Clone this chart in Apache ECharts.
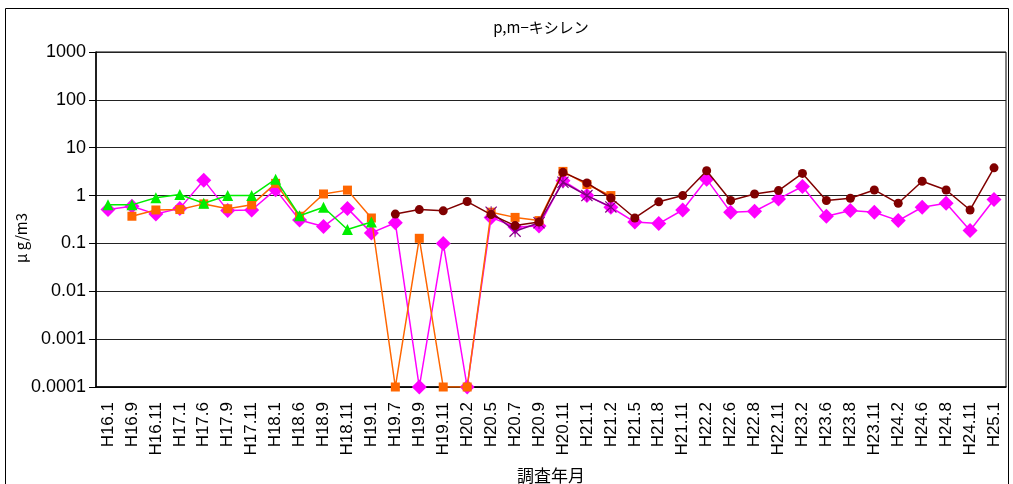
<!DOCTYPE html>
<html><head><meta charset="utf-8">
<script src="https://cdn.jsdelivr.net/npm/echarts@6/dist/echarts.min.js"></script>
<style>html,body{margin:0;padding:0;background:#fff}#c{width:1013px;height:484px}</style>
</head><body><div id="c"></div>
<script>
const categories = ["H16.1","H16.9","H16.11","H17.1","H17.6","H17.9","H17.11","H18.1","H18.6","H18.9","H18.11","H19.1","H19.7","H19.9","H19.11","H20.2","H20.5","H20.7","H20.9","H20.11","H21.1","H21.2","H21.5","H21.8","H21.11","H22.2","H22.6","H22.8","H22.11","H23.2","H23.6","H23.8","H23.11","H24.2","H24.6","H24.8","H24.11","H25.1"];
const yTickLabels = ["0.0001","0.001","0.01","0.1","1","10","100","1000"];
const greenVals = [0.64,0.64,0.90,1.05,0.69,1.0,1.0,2.2,0.38,0.57,0.195,0.28];
const orangeVals = [null,0.37,0.50,0.51,0.67,0.53,0.64,1.8,0.37,1.08,1.3,0.34,0.0001,0.128,0.0001,0.0001,0.45,0.35,0.30,3.2,1.7,1.0];
const magentaVals = [0.51,0.6,0.41,0.54,2.1,0.49,0.50,1.33,0.31,0.225,0.54,0.166,0.27,0.0001,0.1,0.0001,0.35,0.22,0.23,2.05,1.0,0.57,0.28,0.26,0.50,2.2,0.45,0.47,0.85,1.55,0.37,0.49,0.45,0.30,0.57,0.69,0.186,0.83];
const darkredVals = [null,null,null,null,null,null,null,null,null,null,null,null,0.41,0.51,0.48,0.75,0.40,0.236,0.28,3.06,1.84,0.89,0.34,0.74,1.0,3.3,0.79,1.08,1.27,2.9,0.79,0.88,1.31,0.69,1.99,1.31,0.50,3.8];
const purpleVals = [null,null,null,null,null,null,null,null,null,null,null,null,null,null,null,null,0.45,0.18,0.27,1.9,1.0,0.58];

const asterisk = 'path://M-10,-8.6L-8.6,-10L10,8.6L8.6,10Z M8.6,-10L10,-8.6L-8.6,10L-10,8.6Z M-0.8,-10L0.8,-10L0.8,10L-0.8,10Z';
function ser(name, data, color, symbol, size, z){
  return {name, type:'line', data, z, symbol, symbolSize:size, connectNulls:false,
    lineStyle:{color, width:1.5}, itemStyle:{color}, emphasis:{disabled:true}, animation:false};
}
const chart = echarts.init(document.getElementById('c'), null, {renderer:'canvas'});
chart.setOption({
  animation:false,
  backgroundColor:'#fff',
  title:{text:'p,m−キシレン', left:536, top:15, textAlign:'center',
    textStyle:{fontFamily:'Noto Sans CJK JP', fontSize:15, fontWeight:'normal', color:'#000'}},
  graphic:[
    {type:'rect', shape:{x:5.5,y:8.5,width:1003,height:490}, style:{fill:null, stroke:'#000', lineWidth:1}, silent:true},
    {type:'text', x:14, y:238, rotation:Math.PI/2, style:{text:'μ g/m3', fontFamily:'Noto Sans CJK JP', fontSize:15, fill:'#000', align:'center', verticalAlign:'top'}, silent:true}
  ],
  grid:{left:96, right:7, top:52, bottom:97, show:true, borderColor:'#000', borderWidth:1, outerBoundsMode:'none', containLabel:false},
  xAxis:{type:'category', data:categories, boundaryGap:true,
    name:'調査年月', nameLocation:'middle', nameGap:80,
    nameTextStyle:{fontFamily:'Noto Sans CJK JP', fontSize:17, color:'#000'},
    axisLine:{lineStyle:{color:'#000', width:1.5}},
    axisTick:{inside:true, length:5, lineStyle:{color:'#000'}},
    axisLabel:{rotate:90, interval:0, margin:15, fontFamily:'Liberation Sans', fontSize:17, color:'#000'}},
  yAxis:{type:'log', logBase:10, min:0.0001, max:1000,
    axisLine:{show:true, lineStyle:{color:'#000', width:1.5}},
    axisTick:{show:true, length:7, lineStyle:{color:'#000'}},
    splitLine:{show:true, lineStyle:{color:'#222', width:1.2}},
    axisLabel:{margin:10, fontFamily:'Liberation Sans', fontSize:18, color:'#000',
      formatter:v=>yTickLabels[Math.round(Math.log10(v))+4]}},
  series:[
    ser('m', magentaVals, '#FF00FF', 'diamond', 15, 2),
    ser('o', orangeVals, '#FF6600', 'rect', 9, 3),
    ser('g', greenVals, '#00EE00', 'triangle', 11, 4),
    ser('p', purpleVals, '#800080', asterisk, 12, 5),
    ser('d', darkredVals, '#800000', 'circle', 9, 6)
  ]
});
</script></body></html>
